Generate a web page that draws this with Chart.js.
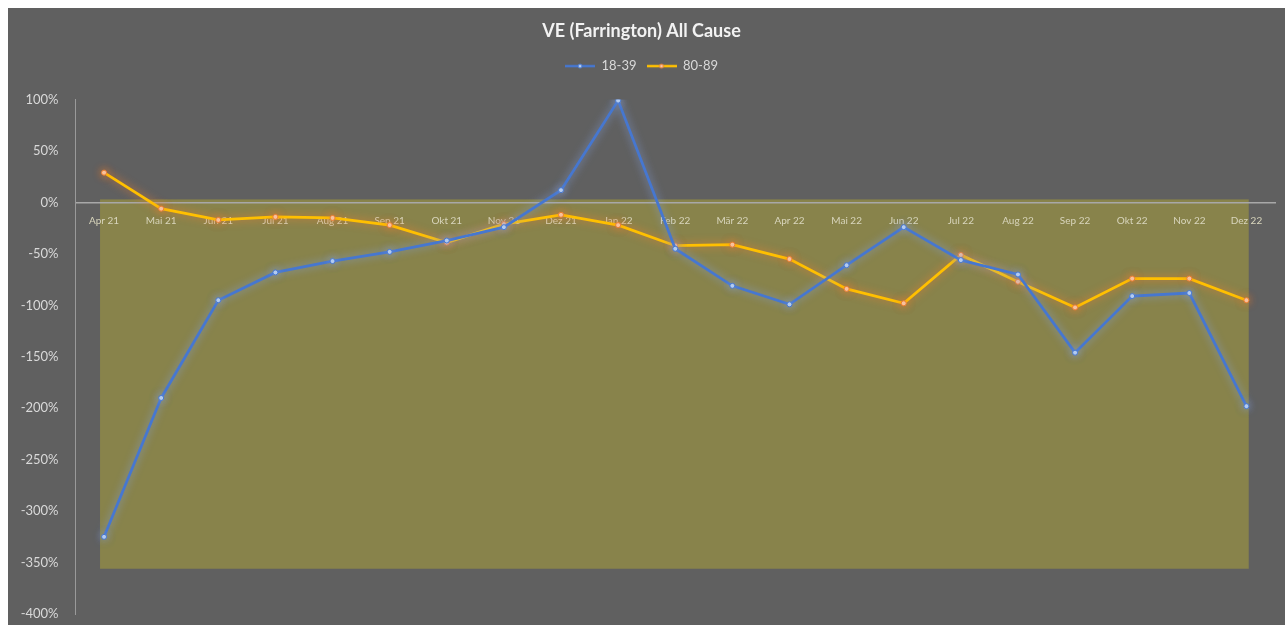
<!DOCTYPE html>
<html lang="de">
<head>
  <meta charset="UTF-8" />
  <title>VE (Farrington) All Cause</title>
  <script src="https://cdn.jsdelivr.net/npm/chart.js"></script>
  <style>
    html, body {
      margin: 0;
      padding: 0;
      background: #ffffff;
    }
    .frame {
      position: absolute;
      left: 8px;
      top: 8px;
      width: 1277px;
      height: 617px;
      background: #606060;
    }
  </style>
</head>
<body>
  <div class="frame">
    <canvas id="veChart"></canvas>
  </div>

  <script>
    const months = ['Apr 21', 'Mai 21', 'Jun 21', 'Jul 21', 'Aug 21', 'Sep 21', 'Okt 21', 'Nov 21',
      'Dez 21', 'Jan 22', 'Feb 22', 'Mär 22', 'Apr 22', 'Mai 22', 'Jun 22', 'Jul 22', 'Aug 22',
      'Sep 22', 'Okt 22', 'Nov 22', 'Dez 22'];
    const ve18to39 = [-325, -190, -95, -68, -57, -48, -37, -24, 12, 99, -45, -81, -99, -61, -24,
      -56, -70, -146, -91, -88, -198];
    const ve80to89 = [29, -6, -17, -14, -15, -22, -39, -21, -12, -22, -42, -41, -55, -84, -98,
      -51, -77, -102, -74, -74, -95];
    const yTicks = [100, 50, 0, -50, -100, -150, -200, -250, -300, -350, -400];
    // highlighted band behind the lines (value units)
    const bandValues = [3, -356];
    const bandIndexes = [-0.07, 20.04];

    function legendIcon(line, fill, border) {
      const c = document.createElement('canvas');
      c.width = 30;
      c.height = 8;
      const g = c.getContext('2d');
      g.strokeStyle = line;
      g.lineWidth = 2.5;
      g.beginPath();
      g.moveTo(0, 4);
      g.lineTo(30, 4);
      g.stroke();
      g.fillStyle = fill;
      g.strokeStyle = border;
      g.lineWidth = 1;
      g.beginPath();
      g.arc(15, 4, 2, 0, Math.PI * 2);
      g.fill();
      g.stroke();
      return c;
    }

    const bandPlugin = {
      id: 'band',
      beforeDraw(chart) {
        const x = chart.scales.x, y = chart.scales.y, ctx = chart.ctx;
        const left = x.getPixelForValue(bandIndexes[0]);
        const right = x.getPixelForValue(bandIndexes[1]);
        const top = y.getPixelForValue(bandValues[0]);
        const bottom = y.getPixelForValue(bandValues[1]);
        ctx.save();
        ctx.fillStyle = '#88834b';
        ctx.fillRect(left, top, right - left, bottom - top);
        ctx.restore();
      }
    };

    const glowPlugin = {
      id: 'glow',
      beforeDatasetDraw(chart, args) {
        const ds = chart.data.datasets[args.index];
        chart.ctx.save();
        chart.ctx.shadowColor = ds.glowColor;
        chart.ctx.shadowBlur = 8;
      },
      afterDatasetDraw(chart) {
        chart.ctx.restore();
      }
    };

    // extra room under the legend before the plot starts
    const legendGap = {
      id: 'legendGap',
      beforeInit(chart) {
        const fit = chart.legend.fit;
        chart.legend.fit = function () {
          fit.call(this);
          this.height += 17;
        };
      }
    };

    const blueIcon = legendIcon('#4677d0', '#b8d0f2', '#4677d0');
    const yellowIcon = legendIcon('#ffc000', '#f9c9a8', '#ed7d31');

    new Chart(document.getElementById('veChart'), {
      type: 'line',
      data: {
        labels: months,
        datasets: [
          {
            label: '18-39',
            data: ve18to39,
            borderColor: '#4677d0',
            borderWidth: 2.75,
            pointRadius: 2.5,
            pointBackgroundColor: '#b8d0f2',
            pointBorderColor: '#4677d0',
            pointBorderWidth: 1,
            pointStyle: 'circle',
            glowColor: 'rgba(130,160,225,0.85)',
            tension: 0
          },
          {
            label: '80-89',
            data: ve80to89,
            borderColor: '#ffc000',
            borderWidth: 2.75,
            pointRadius: 2.5,
            pointBackgroundColor: '#f9c9a8',
            pointBorderColor: '#ed7d31',
            pointBorderWidth: 1,
            pointStyle: 'circle',
            glowColor: 'rgba(237,125,49,0.9)',
            tension: 0
          }
        ]
      },
      options: {
        responsive: true,
        maintainAspectRatio: false,
        animation: false,
        layout: { padding: { left: 0, right: 10, top: 2, bottom: 11 } },
        plugins: {
          title: {
            display: true,
            text: 'VE (Farrington) All Cause',
            color: '#f2f2f2',
            font: { family: 'Lato', size: 18, weight: 'bold' },
            padding: { top: 10, bottom: 8 }
          },
          legend: {
            display: true,
            labels: {
              color: '#d9d9d9',
              font: { family: 'Lato', size: 13 },
              usePointStyle: true,
              pointStyleWidth: 30,
              boxHeight: 8,
              padding: 10,
              generateLabels(chart) {
                return chart.data.datasets.map((ds, i) => ({
                  text: ds.label,
                  fontColor: '#d9d9d9',
                  pointStyle: i === 0 ? blueIcon : yellowIcon,
                  datasetIndex: i,
                  lineWidth: 0
                }));
              }
            }
          },
          tooltip: { enabled: false }
        },
        scales: {
          x: {
            position: { y: 0 },
            offset: true,
            grid: { display: false },
            border: { display: true, color: '#a8a8a8', width: 1.5 },
            ticks: {
              color: '#d8d5bc',
              font: { family: 'Lato', size: 10 },
              maxRotation: 0,
              autoSkip: false,
              padding: 4
            }
          },
          y: {
            min: -400,
            max: 100,
            grid: { display: false },
            border: { display: true, color: '#9a9a9a', width: 1 },
            afterFit(scale) {
              scale.width = 67.5;
              scale.paddingBottom = 0;
            },
            afterBuildTicks(scale) { scale.ticks = yTicks.map(v => ({ value: v })); },
            ticks: {
              color: '#d9d9d9',
              font: { family: 'Lato', size: 13 },
              padding: 9,
              callback: v => v + '%'
            }
          }
        }
      },
      plugins: [bandPlugin, glowPlugin, legendGap]
    });
  </script>
</body>
</html>
